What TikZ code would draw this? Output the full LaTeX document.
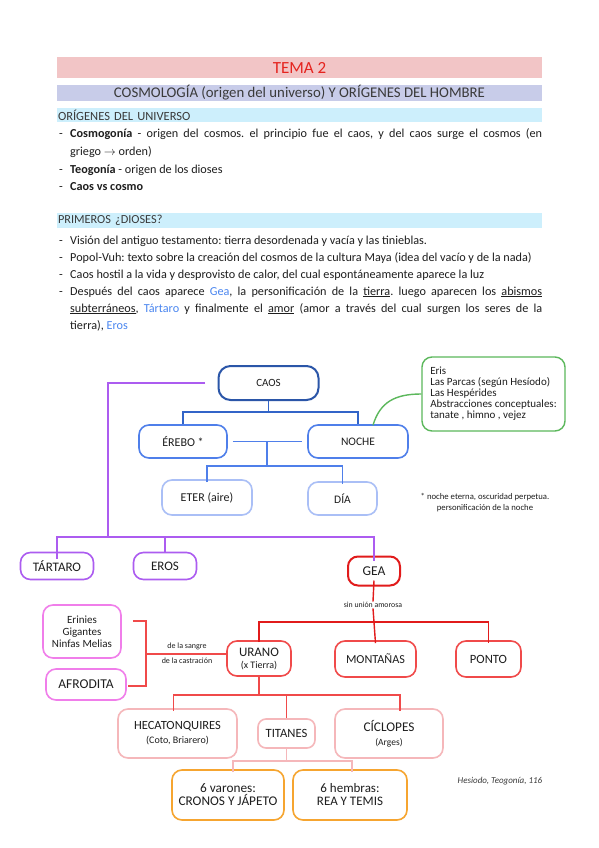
\documentclass[tikz,border=0pt]{standalone}
\usepackage{fontspec}
\setmainfont{Carlito}
\usetikzlibrary{calc}
\definecolor{bandpink}{HTML}{F2C5C6}
\definecolor{bandlav}{HTML}{C8CCE9}
\definecolor{bandblue}{HTML}{CDEFFC}
\definecolor{temared}{HTML}{E5231E}
\definecolor{headgray}{HTML}{3A3A3A}
\definecolor{textcol}{HTML}{1E1E1E}
\definecolor{linkblue}{HTML}{4A86F0}
\definecolor{caosblue}{HTML}{2B56A8}
\definecolor{midblue}{HTML}{4F7FEA}
\definecolor{lightblue}{HTML}{AABFF6}
\definecolor{lineblue}{HTML}{3264C8}
\definecolor{erisgreen}{HTML}{5CB85C}
\definecolor{purp}{HTML}{AC5CF0}
\definecolor{geared}{HTML}{E11B1B}
\definecolor{redtwo}{HTML}{F04A4A}
\definecolor{lpink}{HTML}{F5B7BA}
\definecolor{magen}{HTML}{F07EEA}
\definecolor{orng}{HTML}{F6A530}
\newcommand\fsz[2]{\fontsize{#1}{#2}\selectfont}
\frenchspacing
\begin{document}
\begin{tikzpicture}[x=1pt,y=-1pt,
  band/.style={minimum width=485pt, inner sep=0pt, anchor=center},
  txt/.style={anchor=base west, inner sep=0pt, font=\fsz{12.2}{13}, text=textcol},
  gbox/.style={draw, rounded corners=10pt, line width=1.6pt, fill=white, align=center, inner sep=1pt, text=textcol},
  small/.style={inner sep=0.5pt, text=textcol, align=center}
]
\useasboundingbox[fill=white] (0,0) rectangle (599,848);

% header bands
\node[band, fill=bandpink, minimum height=21pt, font=\fsz{17}{18}, text=temared] (b1) at (299.5,67.5) {TEMA 2};
\node[band, fill=bandlav, minimum height=16pt, font=\fsz{14.8}{15}, text=headgray] (b2) at (299.5,93) {COSMOLOGÍA (origen del universo) Y ORÍGENES DEL HOMBRE};
\node[band, fill=bandblue, minimum height=14pt, text width=483pt, align=left, inner xsep=1pt, font=\fsz{12.5}{13}, text=headgray] (b3) at (299.5,115) {ORÍGENES DEL UNIVERSO};
\node[band, fill=bandblue, minimum height=15pt, text width=483pt, align=left, inner xsep=1pt, font=\fsz{12.3}{13}, text=headgray] (b4) at (299.5,220.5) {PRIMEROS ¿DIOSES?};

% section 1
\node[txt] (d1) at (59,137) {-};
\node[txt] (l1) at (70,137) {\makebox[472pt][s]{\textbf{Cosmogonía} - origen del cosmos. el principio fue el caos, y del caos surge el cosmos (en}};
\node[txt] (l2) at (70,155) {griego $\rightarrow$ orden)};
\node[txt] (d3) at (59,173) {-};
\node[txt] (l3) at (70,173) {\textbf{Teogonía} - origen de los dioses};
\node[txt] (d4) at (59,190) {-};
\node[txt] (l4) at (70,190) {\textbf{Caos vs cosmo}};

% section 2
\node[txt] (d5) at (59,244) {-};
\node[txt] (l5) at (70,244) {Visión del antiguo testamento: tierra desordenada y vacía y las tinieblas.};
\node[txt] (d6) at (59,261) {-};
\node[txt] (l6) at (70,261) {Popol-Vuh: texto sobre la creación del cosmos de la cultura Maya (idea del vacío y de la nada)};
\node[txt] (d7) at (59,278) {-};
\node[txt] (l7) at (70,278) {Caos hostil a la vida y desprovisto de calor, del cual espontáneamente aparece la luz};
\node[txt] (d8) at (59,295) {-};
\node[txt] (l8) at (70,295) {\makebox[472pt][s]{Después del caos aparece \textcolor{linkblue}{Gea}, la personificación de la \underline{tierra}. luego aparecen los \underline{abismos}}};
\node[txt] (l9) at (70,312) {\makebox[472pt][s]{\underline{subterráneos}, \textcolor{linkblue}{Tártaro} y finalmente el \underline{amor} (amor a través del cual surgen los seres de la}};
\node[txt] (l10) at (70,329) {tierra), \textcolor{linkblue}{Eros}};

% upper diagram
\node[gbox, draw=caosblue, line width=2pt, minimum width=100pt, minimum height=34pt, rounded corners=12pt, font=\fsz{11}{12}] (caos) at (268.5,383) {CAOS};
\node[gbox, draw=midblue, minimum width=88pt, minimum height=33pt, font=\fsz{12}{12}] (erebo) at (183,441.5) {ÉREBO *};
\node[gbox, draw=midblue, minimum width=100pt, minimum height=33pt, font=\fsz{11.5}{12}] (noche) at (358,441.5) {NOCHE};
\node[gbox, draw=lightblue, minimum width=90pt, minimum height=35pt, font=\fsz{12}{12}] (eter) at (207,497.5) {ETER (aire)};
\node[gbox, draw=lightblue, minimum width=69pt, minimum height=33pt, font=\fsz{11.5}{12}] (dia) at (342.5,498.5) {DÍA};
\node[gbox, draw=erisgreen, line width=1.4pt, minimum width=143pt, minimum height=74pt, align=left, font=\fsz{11}{11}] (eris) at (493.5,394) {Eris\\Las Parcas (según Hesíodo)\\Las Hespérides\\Abstracciones conceptuales:\\tanate , himno , vejez};
\node[small, font=\fsz{8.7}{11}] (foot) at (485,502.5) {* noche eterna, oscuridad perpetua.\\personificación de la noche};

\coordinate (bj) at (270,412);
\coordinate (ej) at (267,441);
\coordinate (fj) at (267,466);
\draw[lineblue, line width=1.4pt] (caos.south) -- (caos.south |- bj);
\draw[lineblue, line width=1.4pt] (erebo.north) -- (erebo.north |- bj) -| (noche.north);
\draw[midblue, line width=1.4pt] ([xshift=5pt]erebo.east) -- ([xshift=-5pt]noche.west);
\draw[midblue, line width=1.4pt] (ej) -- (fj);
\draw[midblue, line width=1.4pt] ([yshift=-3pt]eter.north) -- (eter.north |- fj) -| ([yshift=-3pt]dia.north);
\draw[erisgreen, line width=1.4pt] ([xshift=15pt,yshift=-1pt]noche.north) .. controls (380,402) and (395,394) .. (eris.west);

% purple branch
\coordinate (pstart) at (205,383);
\coordinate (pcorner) at (108,383);
\coordinate (pbar) at (108,537);
\node[gbox, draw=purp, minimum width=73pt, minimum height=27pt, font=\fsz{13}{13}] (tartaro) at (57,566) {TÁRTARO};
\node[gbox, draw=purp, minimum width=63pt, minimum height=27pt, font=\fsz{13}{13}] (eros) at (165,566) {EROS};
\node[gbox, draw=geared, line width=2pt, minimum width=52pt, minimum height=29pt, font=\fsz{13.5}{13}] (gea) at (374,571) {GEA};
\draw[purp, line width=1.4pt] (pstart) -- (pcorner) -- (pbar);
\draw[purp, line width=1.4pt] ([yshift=-7pt]tartaro.north) -- (tartaro.north |- pbar) -| ([yshift=-5pt]gea.north);
\draw[purp, line width=1.4pt] (eros.north) -- (eros.north |- pbar);

% red part
\node[small, font=\fsz{7.8}{8}] (sinu) at (373,605) {sin unión amorosa};
\node[gbox, draw=redtwo, minimum width=64pt, minimum height=35pt, font=\fsz{13}{12}] (urano) at (259,658.5) {URANO\\{\fsz{10}{10}(x Tierra)}};
\node[gbox, draw=redtwo, minimum width=81pt, minimum height=36pt, font=\fsz{12.2}{13}] (montanas) at (375.5,659) {MONTAÑAS};
\node[gbox, draw=redtwo, minimum width=65pt, minimum height=36pt, font=\fsz{12.6}{13}] (ponto) at (488.5,659) {PONTO};
\coordinate (rbar) at (0,622);
\draw[geared, line width=1.4pt] ([yshift=6pt]gea.south) -- (sinu.north);
\draw[geared, line width=1.4pt] (sinu.south) -- ([yshift=-3pt]montanas.north);
\draw[geared, line width=1.4pt] ([yshift=-2pt]urano.north) -- (urano.north |- rbar) -| ([yshift=-3pt]ponto.north);

\node[gbox, draw=magen, minimum width=78pt, minimum height=53pt, font=\fsz{11}{12}] (erinies) at (82,631.5) {Erinies\\Gigantes\\Ninfas Melias};
\node[gbox, draw=magen, minimum width=80pt, minimum height=31pt, font=\fsz{13.5}{13}] (afrodita) at (86,684.5) {AFRODITA};
\coordinate (bt) at (146,621);
\coordinate (bb) at (146,686);
\coordinate (bm) at (146,654);
\draw[redtwo, line width=1.3pt] ([xshift=11pt]erinies.east |- bt) -- (bt) -- (bb) -- ([xshift=1pt]afrodita.east |- bb);
\draw[redtwo, line width=1.3pt] (bm) -- (bm -| urano.west);
\node[small, font=\fsz{8}{8}] (sangre) at (187,646) {de la sangre};
\node[small, font=\fsz{8}{8}] (castr) at (187,661) {de la castración};

% lower level
\node[gbox, draw=lpink, minimum width=119pt, minimum height=49pt, font=\fsz{12.5}{14}] (hecat) at (177.5,733.5) {HECATONQUIRES\\{\fsz{10}{10}(Coto, Briarero)}};
\node[gbox, draw=lpink, minimum width=57pt, minimum height=29pt, rounded corners=8pt, font=\fsz{12.6}{13}] (titanes) at (286.5,733.5) {TITANES};
\node[gbox, draw=lpink, minimum width=108pt, minimum height=49pt, font=\fsz{13.3}{14}] (ciclopes) at (389,733.5) {CÍCLOPES\\{\fsz{9.5}{10}(Arges)}};
\coordinate (ubar) at (0,695);
\draw[redtwo, line width=1.4pt] (urano.south) -- (urano.south |- ubar);
\draw[redtwo, line width=1.4pt] ([xshift=-4pt,yshift=-3pt]hecat.north) -- ([xshift=-4pt]hecat.north |- ubar) -| ([xshift=11pt,yshift=-3pt]ciclopes.north);
\draw[redtwo, line width=1.4pt] (titanes.north) -- (titanes.north |- ubar);

\node[gbox, draw=orng, minimum width=112pt, minimum height=50pt, font=\fsz{13.3}{13}] (varones) at (228,795) {6 varones:\\CRONOS Y JÁPETO};
\node[gbox, draw=orng, minimum width=114pt, minimum height=50pt, font=\fsz{13}{13}] (hembras) at (350,795) {6 hembras:\\REA Y TEMIS};
\coordinate (tbar) at (0,761);
\draw[lpink, line width=1.4pt] (titanes.south) -- (titanes.south |- tbar);
\draw[lpink, line width=1.4pt] ([xshift=5pt,yshift=-3pt]varones.north) -- ([xshift=5pt]varones.north |- tbar) -| ([xshift=2pt,yshift=-3pt]hembras.north);

\node[small, font=\fsz{9}{9}\itshape, text=headgray] (hes) at (500,781) {Hesiodo, Teogonía, 116};
\end{tikzpicture}
\end{document}
